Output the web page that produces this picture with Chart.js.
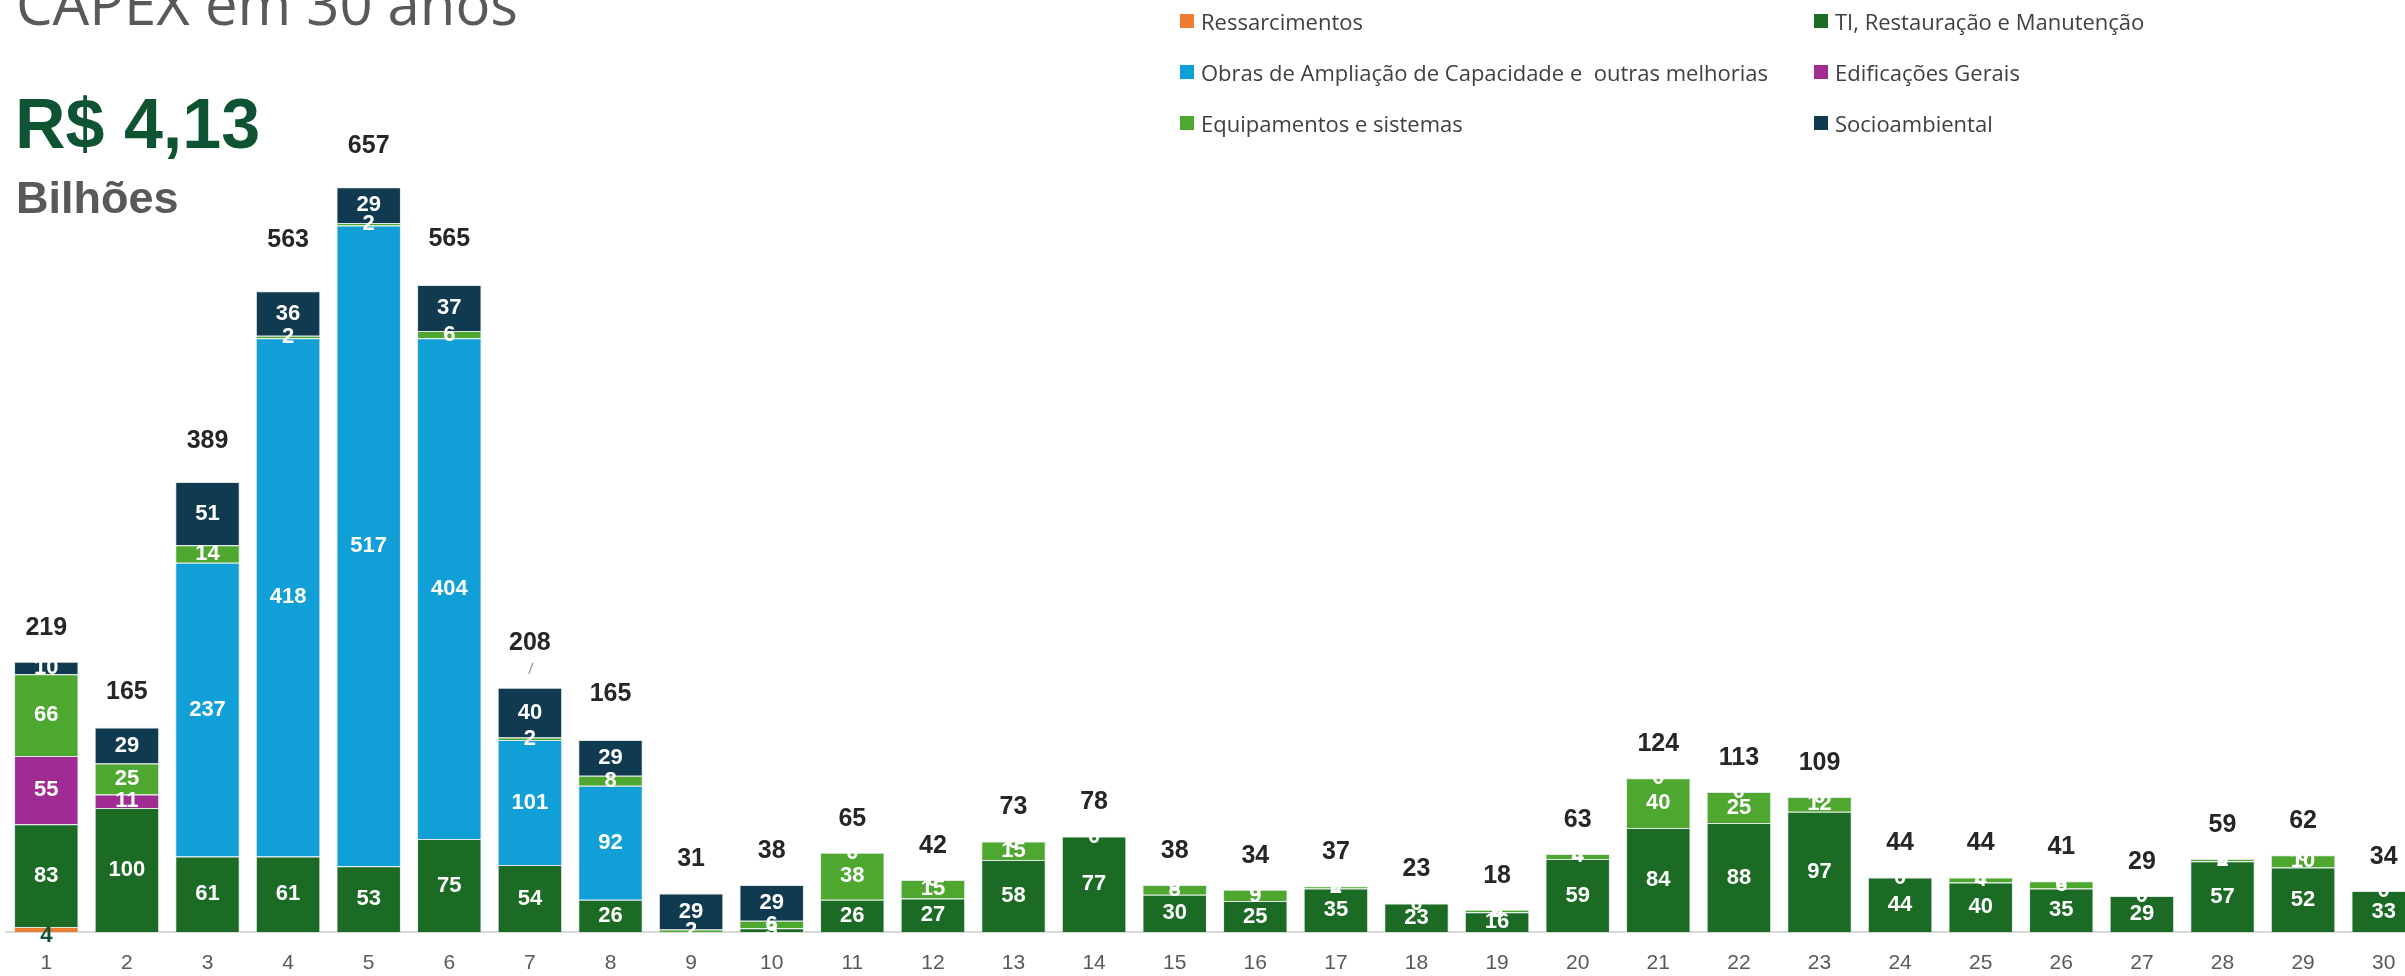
<!DOCTYPE html>
<html lang="pt-BR">
<head>
<meta charset="utf-8">
<title>CAPEX em 30 anos</title>
<script src="https://cdn.jsdelivr.net/npm/chart.js@4.4.1/dist/chart.umd.min.js"></script>
<style>
  html, body { margin: 0; padding: 0; background: #fff; overflow: hidden; width: 2405px; height: 976px; }
  #wrap { position: absolute; left: 0; top: 0; width: 2430px; height: 976px; }
  .titulo { position: absolute; left: 16px; top: -26px; font: 500 58px/1 "Open Sans", sans-serif; color: #595959; white-space: nowrap; }
  .valor { position: absolute; left: 15px; top: 89px; font: bold 70px/1 "Liberation Sans", Arial, sans-serif; color: #0e5432; white-space: nowrap; }
  .unidade { position: absolute; left: 16px; top: 175px; font: bold 45px/1 "Liberation Sans", Arial, sans-serif; color: #595959; }
  .item { position: absolute; display: flex; align-items: center; height: 30px; font: 22px/30px "Open Sans", sans-serif; color: #404040; white-space: pre; }
  .item .box { display: inline-block; width: 14px; height: 14px; margin-right: 7px; }
</style>
</head>
<body>
<div id="wrap"><canvas id="capex"></canvas></div>
<div class="titulo">CAPEX em 30 anos</div>
<div class="valor">R$ 4,13</div>
<div class="unidade">Bilhões</div>
<div id="legenda"></div>

<script>
// anos do horizonte
const anos = ['1','2','3','4','5','6','7','8','9','10','11','12','13','14','15',
              '16','17','18','19','20','21','22','23','24','25','26','27','28','29','30'];

// valores por categoria (R$ milhões)
const ressarcimentos = [4,0,0,0,0,0,0,0,0,0,0,0,0,0,0,0,0,0,0,0,0,0,0,0,0,0,0,0,0,0];
const tiRestauracao  = [83,100,61,61,53,75,54,26,0,3,26,27,58,77,30,25,35,23,16,59,84,88,97,44,40,35,29,57,52,33];
const obrasAmpliacao = [0,0,237,418,517,404,101,92,0,0,0,0,0,0,0,0,0,0,0,0,0,0,0,0,0,0,0,0,0,0];
const edificacoes    = [55,11,0,0,0,0,0,0,0,0,0,0,0,0,0,0,0,0,0,0,0,0,0,0,0,0,0,0,0,0];
const equipamentos   = [66,25,14,2,2,6,2,8,2,6,38,15,15,0,8,9,2,0,2,4,40,25,12,0,4,6,0,2,10,0];
const socioambiental = [10,29,51,36,29,37,40,29,29,29,0,0,0,0,0,0,0,0,0,0,0,0,0,0,0,0,0,0,0,0];

// totais escritos acima das barras
const totais = [219,165,389,563,657,565,208,165,31,38,65,42,73,78,38,34,37,23,18,63,124,113,109,44,44,41,29,59,62,34];

// distancia do total ao topo da barra (px), ajustada nas primeiras barras
const distTotal = [34,35,41,51,41,46,45,46];

const borda = 'rgba(205,215,215,0.6)';

const datasets = [
  { label: 'Ressarcimentos', data: ressarcimentos, backgroundColor: '#ed7d31', rotuloAbaixo: true },
  { label: 'TI, Restauração e Manutenção', data: tiRestauracao, backgroundColor: '#1b6b25' },
  { label: 'Obras de Ampliação de Capacidade e  outras melhorias', data: obrasAmpliacao, backgroundColor: '#109fd6' },
  { label: 'Edificações Gerais', data: edificacoes, backgroundColor: '#a02b93' },
  { label: 'Equipamentos e sistemas', data: equipamentos, backgroundColor: '#4ea72e' },
  { label: 'Socioambiental', data: socioambiental, backgroundColor: '#0f3a50', mostraZero: true }
];
datasets.forEach(d => { d.borderColor = borda; d.borderWidth = 1; d.stack = 'capex'; });

// rotulos dentro das barras
const rotulosSegmentos = {
  id: 'rotulosSegmentos',
  afterDatasetsDraw(chart) {
    const ctx = chart.ctx;
    ctx.save();
    ctx.textAlign = 'center';
    ctx.textBaseline = 'middle';
    chart.data.datasets.forEach((ds, di) => {
      const meta = chart.getDatasetMeta(di);
      meta.data.forEach((bar, i) => {
        const v = ds.data[i];
        if (v === 0 && !ds.mostraZero) return;
        let y = (bar.y + bar.base) / 2;
        ctx.font = 'bold 22px "Liberation Sans", Arial, sans-serif';
        ctx.fillStyle = '#ffffff';
        if (ds.rotuloAbaixo) {
          y = bar.base + 4;
          ctx.font = 'bold 22px "Liberation Sans", Arial, sans-serif';
          ctx.fillStyle = '#0e5432';
        }
        ctx.fillText(String(v), bar.x, y);
      });
    });

    // totais
    const topo = chart.getDatasetMeta(chart.data.datasets.length - 1).data;
    ctx.font = 'bold 25px "Liberation Sans", Arial, sans-serif';
    ctx.fillStyle = '#262626';
    topo.forEach((bar, i) => {
      const gap = distTotal[i] !== undefined ? distTotal[i] : 34;
      ctx.fillText(String(totais[i]), bar.x, bar.y - gap);
    });

    // pequena linha guia no ano 7
    const b7 = topo[6];
    ctx.strokeStyle = '#a6a6a6';
    ctx.lineWidth = 1.5;
    ctx.beginPath();
    ctx.moveTo(b7.x + 3, b7.y - 25);
    ctx.lineTo(b7.x - 1, b7.y - 14);
    ctx.stroke();
    ctx.restore();
  }
};

const ctx = document.getElementById('capex').getContext('2d');
const grafico = new Chart(ctx, {
  type: 'bar',
  data: { labels: anos, datasets: datasets },
  plugins: [rotulosSegmentos],
  options: {
    responsive: true,
    maintainAspectRatio: false,
    animation: false,
    layout: { padding: { left: 6, right: 6, top: 0, bottom: 0 } },
    datasets: { bar: { categoryPercentage: 0.8, barPercentage: 1.0 } },
    plugins: {
      legend: { display: false },
      tooltip: { enabled: false }
    },
    scales: {
      x: {
        stacked: true,
        grid: { display: false, drawTicks: false },
        border: { display: true, color: '#d9d9d9', width: 2 },
        ticks: { color: '#595959', padding: 19, font: { family: '"Liberation Sans", Arial, sans-serif', size: 21 } },
        afterFit(scale) { scale.height = 44; }
      },
      y: {
        stacked: true,
        display: false,
        min: 0,
        max: 752
      }
    }
  }
});

// legenda em duas colunas
const legenda = document.getElementById('legenda');
const colunas = [1180, 1814];
datasets.forEach((d, i) => {
  const item = document.createElement('div');
  item.className = 'item';
  item.style.left = colunas[i % 2] + 'px';
  item.style.top = (21 + 51 * Math.floor(i / 2) - 15) + 'px';
  const box = document.createElement('span');
  box.className = 'box';
  box.style.background = d.backgroundColor;
  item.appendChild(box);
  item.appendChild(document.createTextNode(d.label));
  legenda.appendChild(item);
});
</script>
</body>
</html>
